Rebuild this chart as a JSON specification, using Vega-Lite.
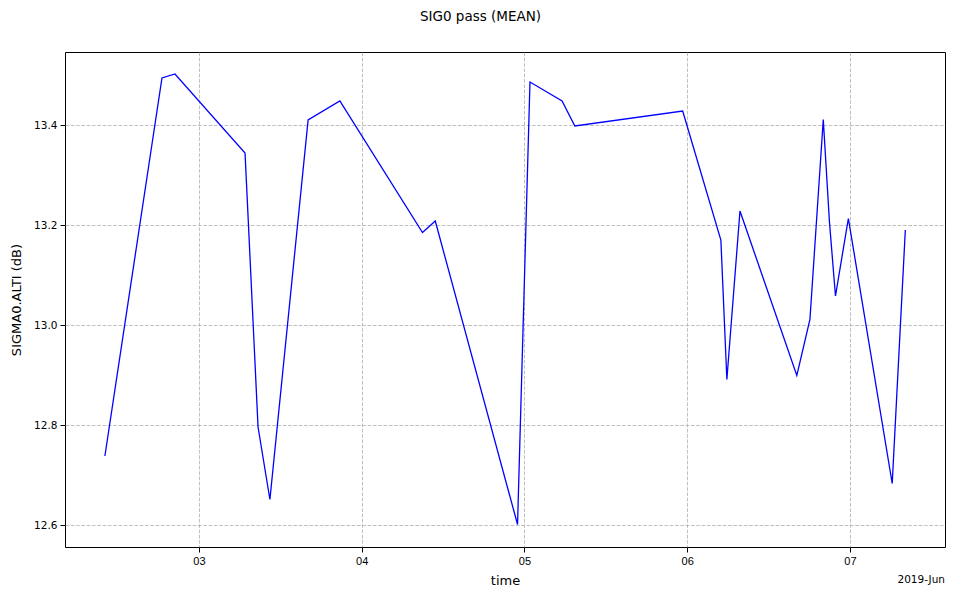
{
  "$schema": "https://vega.github.io/schema/vega-lite/v6.json",
  "autosize": "none",
  "width": 880,
  "height": 495,
  "padding": {"left": 65, "top": 52, "right": 10, "bottom": 52},
  "background": "white",
  "config": {
    "font": "DejaVu Sans",
    "view": {"stroke": "black", "strokeWidth": 1}
  },
  "title": {
    "text": "SIG0 pass (MEAN)",
    "font": "DejaVu Sans",
    "fontSize": 13.5,
    "fontWeight": "normal",
    "color": "black",
    "anchor": "middle",
    "dx": -24.5,
    "offset": 29
  },
  "layer": [
    {
      "data": {
        "values": [
          {"time": "2019-06-02T10:08", "sigma0": 12.738},
          {"time": "2019-06-02T18:33", "sigma0": 13.494},
          {"time": "2019-06-02T20:28", "sigma0": 13.502},
          {"time": "2019-06-03T06:48", "sigma0": 13.344},
          {"time": "2019-06-03T06:56", "sigma0": 13.306},
          {"time": "2019-06-03T08:43", "sigma0": 12.796},
          {"time": "2019-06-03T10:28", "sigma0": 12.651},
          {"time": "2019-06-03T16:06", "sigma0": 13.41},
          {"time": "2019-06-03T20:47", "sigma0": 13.448},
          {"time": "2019-06-04T08:58", "sigma0": 13.185},
          {"time": "2019-06-04T10:51", "sigma0": 13.208},
          {"time": "2019-06-04T22:59", "sigma0": 12.601},
          {"time": "2019-06-05T00:49", "sigma0": 13.486},
          {"time": "2019-06-05T05:33", "sigma0": 13.448},
          {"time": "2019-06-05T07:26", "sigma0": 13.398},
          {"time": "2019-06-05T23:20", "sigma0": 13.428},
          {"time": "2019-06-06T04:58", "sigma0": 13.17},
          {"time": "2019-06-06T05:51", "sigma0": 12.891},
          {"time": "2019-06-06T07:47", "sigma0": 13.228},
          {"time": "2019-06-06T16:10", "sigma0": 12.899},
          {"time": "2019-06-06T18:06", "sigma0": 13.011},
          {"time": "2019-06-06T20:04", "sigma0": 13.411},
          {"time": "2019-06-06T20:59", "sigma0": 13.205},
          {"time": "2019-06-06T21:52", "sigma0": 13.058},
          {"time": "2019-06-06T23:46", "sigma0": 13.213},
          {"time": "2019-06-07T06:14", "sigma0": 12.683},
          {"time": "2019-06-07T08:10", "sigma0": 13.19}
        ]
      },
      "mark": {"type": "line", "color": "#0000ff", "strokeWidth": 1.3, "clip": true},
      "encoding": {
        "x": {
          "field": "time",
          "type": "temporal",
          "scale": {
            "domain": [
              {"year": 2019, "month": 6, "date": 2, "hours": 4, "minutes": 15},
              {"year": 2019, "month": 6, "date": 7, "hours": 14, "minutes": 1}
            ]
          },
          "axis": {
            "title": "time",
            "titleFont": "DejaVu Sans",
            "titleFontSize": 13,
            "titleFontWeight": "normal",
            "titleColor": "black",
            "titlePadding": 8,
            "tickCount": {"interval": "day", "step": 1},
            "labelExpr": "timeFormat(datum.value, '%d')",
            "labelFont": "Liberation Sans, DejaVu Sans, sans-serif",
            "labelOverlap": false,
            "labelBound": false,
            "labelFlush": false,
            "labelFontSize": 11,
            "labelColor": "black",
            "labelPadding": 3,
            "tickColor": "black",
            "tickSize": 5,
            "domain": false,
            "grid": true,
            "gridColor": "#b0b0b0",
            "gridDash": [3.7, 1.6],
            "gridWidth": 0.8
          }
        },
        "y": {
          "field": "sigma0",
          "type": "quantitative",
          "scale": {"domain": [12.556, 13.546], "nice": false, "zero": false},
          "axis": {
            "title": "SIGMA0.ALTI (dB)",
            "titleFont": "DejaVu Sans",
            "labelFont": "DejaVu Sans",
            "titleFontSize": 13,
            "titleFontWeight": "normal",
            "titleColor": "black",
            "titlePadding": 10,
            "values": [12.6, 12.8, 13.0, 13.2, 13.4],
            "format": ".1f",
            "labelOverlap": false,
            "labelFontSize": 10.5,
            "labelColor": "black",
            "labelPadding": 3,
            "tickColor": "black",
            "tickSize": 5,
            "domain": false,
            "grid": true,
            "gridColor": "#b0b0b0",
            "gridDash": [3.7, 1.6],
            "gridWidth": 0.8
          }
        }
      }
    },
    {
      "data": {"values": [{"label": "2019-Jun", "t": "2019-06-07T14:01", "v": 12.556}]},
      "mark": {"type": "text", "align": "right", "baseline": "middle", "dy": 33, "fontSize": 10.5, "color": "black", "font": "DejaVu Sans", "clip": false},
      "encoding": {
        "x": {"field": "t", "type": "temporal"},
        "y": {"field": "v", "type": "quantitative"},
        "text": {"field": "label"}
      }
    }
  ]
}
